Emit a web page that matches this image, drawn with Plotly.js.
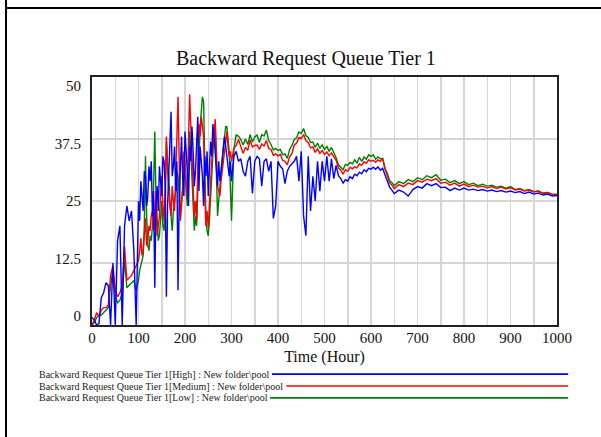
<!DOCTYPE html>
<html>
<head>
<meta charset="utf-8">
<script src="https://cdn.plot.ly/plotly-3.0.1.min.js"></script>
<style>
  html, body { margin: 0; padding: 0; background: #fff; }
  #wrap { position: relative; width: 601px; height: 437px; overflow: hidden; }
  #chart { position: absolute; left: 0; top: 0; width: 601px; height: 437px; }
  .frameV { position: absolute; left: 5px; top: 0; width: 2px; height: 437px; background: #000; z-index: 5; }
  .frameH { position: absolute; left: 5px; top: 7px; width: 596px; height: 2px; background: #000; z-index: 5; }
</style>
</head>
<body>
<div id="wrap">
  <div id="chart"></div>
  <div class="frameV"></div>
  <div class="frameH"></div>
</div>
<script>
// Time (hours)
const time = [
  0,5,10,15,20,25,30,35,40,45,50,55,60,65,70,75,80,85,90,95,100,
  102.5,105,107.5,110,112.5,115,117.5,120,122.5,125,127.5,130,132.5,135,137.5,140,142.5,145,147.5,150,
  152.5,155,157.5,160,162.5,165,167.5,170,172.5,175,177.5,180,182.5,185,187.5,190,192.5,195,197.5,200,
  202.5,205,207.5,210,212.5,215,217.5,220,222.5,225,227.5,230,232.5,235,237.5,240,242.5,245,247.5,250,
  252.5,255,257.5,260,262.5,265,267.5,270,272.5,275,277.5,280,282.5,285,287.5,290,292.5,295,297.5,300,
  305,310,315,320,325,330,335,340,345,350,355,360,365,370,375,380,385,390,395,400,
  405,410,415,420,425,430,435,440,445,450,455,460,465,470,475,480,485,490,495,500,
  505,510,515,520,525,530,535,540,545,550,555,560,565,570,575,580,585,590,595,600,
  605,610,615,620,625,630,635,640,645,650,
  660,670,680,690,700,710,720,730,740,750,760,770,780,790,800,810,820,830,840,850,
  860,870,880,890,900,910,920,930,940,950,960,970,980,990,1000
];

const high = [
  1.5,1,0,0.3,5.5,6.5,8.5,8,0,12.5,0,17,20,0,20,24,21,23,15,0,25,
  21,29,26,23,31,30,24,26,32,29,33,22,27,7.5,24,28,23,32,29,26,
  34,33,28,5.7,24,30,35,43,30,32,36,27,33,7,25,34,38,30,26,39,
  35,31,24,36,33,40,35,28,31,38,42,27,36,33,30,24,34,30,35,26,
  32,37,34,40.5,38,35,31,28,33,29,31,33,35,38,36,34,32,30,33,29,
  34,35,33,33.5,31,30,33,34,26.5,33,34,33.5,28,33,33.5,31,33,21.5,24,33,
  32,31.5,28.5,31,32,32.5,33,34,29,35,22,18,34,23,30,25,33,27,33,29,
  34,29,33.5,29.5,32.2,30.1,29.5,28.6,29.3,29,29.9,29.5,30.4,30.1,30.8,30.5,31.3,30.9,31.6,31.4,
  31.8,31.4,31.9,31.2,31.6,30.3,29.1,27.8,27.2,26.5,
  27.2,26.8,26,27.3,27.9,27.6,28.5,28.1,28.5,27.7,27.8,27.1,27.6,27.2,27.6,27.2,27.4,27.1,27.3,27,
  27.2,26.9,27.1,26.8,27,26.7,26.9,26.5,26.8,26.4,26.6,26.2,26.4,26,26.1
];

const medium = [
  0,1,2.5,1.7,3,3.5,3.5,4,10,12,7,5.7,6.5,8,15.8,9,9.5,10,11,12,13,
  15,17.5,14,15,18,21.5,16,17,20,19,22,23,19,24,27,18,20,22,26,30,
  24,21,28,38,31,27,24,22,28,25,23,30,38,46,33,21,24,28,35,33,
  29,26,37,46.5,40,33,27,22,25,21,32,40.5,38,42,40,38,27,20,23,19.5,
  24,30,33,36,40,41.5,35,28,27,26,29,31,33,36,38,39,36,34,35,33,
  35.6,36.2,37.4,35.8,34.6,35.8,35.2,37.3,35.9,36.2,36.3,35.4,36.5,36.1,37.2,35.6,35.4,34.2,34.5,34.1,
  34.4,33.2,33,32.3,33.9,34.6,36.3,36.7,37.8,37.6,38.4,37.2,36.8,35.7,35.9,34.8,35.5,34.6,35.2,34.4,
  34.9,34.1,34.7,33.9,33.2,31.7,31.2,30.4,31.3,31,31.8,31.5,31.9,31.7,32.5,32.2,32.9,32.6,33.3,33,
  33.2,32.8,33.3,33,33.6,31.5,30.2,28.7,28.2,27.5,
  28.3,27.9,28.6,28.3,29.1,28.8,29.4,29.1,29.5,28.6,28.8,28.2,28.6,28,28.4,27.9,28.2,27.8,28,27.6,
  27.9,27.5,27.8,27.4,27.7,27.2,27.4,27,27.2,26.8,27,26.5,26.7,26.3,26.3
];

const low = [
  0,0.5,1.5,2,2,2.5,3,3.5,8,11,6,4.5,5,6.5,13,7.5,8,8.5,9,7,9,
  11,12,13,14,20,34,22,16,15,18,17,20,28,39,26,22,17,18,21,25,
  20,19,24,37,33,30,25,21,19,23,25,27,31,30,26,22,25,27,30,32,
  27,24,31,39,35,30,24,19,22,20,27,35,40,43,46,45,30,21,19,18,
  21,25,30,35,39,40,31,22,25,28,31,33,36,38,40,40,38,35,28,21,
  35.4,38.3,38.1,37.4,36.3,37.5,36.4,38.4,36.9,37.9,38.3,36.8,38.4,38.1,39.3,37.2,36.4,35.3,35.6,35.2,
  35.4,34.3,34.5,33.6,35.4,36.2,37.4,37.8,38.9,38.6,39.6,38.2,37.8,36.8,36.9,35.8,36.7,35.6,36.3,35.4,
  36,35,35.8,34.8,33.7,32.3,31.8,31.3,32.4,32.2,32.8,32.5,33.3,32.7,33.8,33,33.9,33.4,34.3,34,
  34.3,33.4,33.9,33.5,33.6,31.6,30.6,29.1,28.7,28.1,
  28.9,28.5,29.3,28.9,29.7,29.3,30.1,29.7,30.3,29.2,29.4,28.7,29.1,28.5,28.9,28.3,28.6,28.1,28.4,28,
  28.2,27.8,28,27.6,27.9,27.3,27.5,27.1,27.3,26.9,27,26.6,26.7,26.3,26.3
];

const seriesNames = [
  "Backward Request Queue Tier 1[High] : New folder\\pool",
  "Backward Request Queue Tier 1[Medium] : New folder\\pool",
  "Backward Request Queue Tier 1[Low] : New folder\\pool"
];
const seriesColors = ["#0000ff", "#ff0000", "#008000"];
const xTicks = [0,100,200,300,400,500,600,700,800,900,1000];
const yTicks = [0,12.5,25,37.5,50];
const yTickText = ["0","12.5","25","37.5","50"];

const serif = "'Liberation Serif', 'Times New Roman', serif";

const traces = [
  {x: time, y: low, name: seriesNames[2], mode: "lines", line: {color: seriesColors[2], width: 1.4}},
  {x: time, y: medium, name: seriesNames[1], mode: "lines", line: {color: seriesColors[1], width: 1.4}},
  {x: time, y: high, name: seriesNames[0], mode: "lines", line: {color: seriesColors[0], width: 1.4}},
  // invisible trace to carry the tick-label axis
  {x: [time[0]], y: [yTicks[0]], yaxis: "y2", mode: "markers", marker: {opacity: 0}, hoverinfo: "skip", showlegend: false}
];

// legend rows (positions in paper units)
const legendY = [-0.198, -0.246, -0.294];
const legendLineStart = [0.387, 0.418, 0.383];
const annotations = seriesNames.map((n, i) => ({
  text: n, xref: "paper", yref: "paper", x: -0.118, y: legendY[i],
  xanchor: "left", yanchor: "middle", showarrow: false,
  font: {family: serif, size: 10, color: "#222"}
}));
const shapes = seriesNames.map((n, i) => ({
  type: "line", xref: "paper", yref: "paper",
  x0: legendLineStart[i], x1: 1.024, y0: legendY[i], y1: legendY[i],
  line: {color: seriesColors[i], width: 1.6}
}));

const layout = {
  width: 601, height: 437,
  margin: {l: 92, r: 44, t: 77, b: 112},
  paper_bgcolor: "#fff", plot_bgcolor: "#fff",
  showlegend: false,
  title: {
    text: "Backward Request Queue Tier 1",
    xref: "container", x: 0.509, xanchor: "center",
    yref: "container", y: 0.867, yanchor: "middle",
    font: {family: serif, size: 20, color: "#111"}
  },
  xaxis: {
    range: [0, 1000], tickvals: xTicks, ticktext: xTicks.map(String),
    showgrid: true, gridcolor: "#d6d6d6", gridwidth: 1.5,
    minor: {dtick: 50, showgrid: true, gridcolor: "#d6d6d6", gridwidth: 1.5},
    showline: true, mirror: true, linecolor: "#222", linewidth: 2,
    ticks: "", ticklabelstandoff: -2, zeroline: false,
    tickfont: {family: serif, size: 15, color: "#111"},
    title: {text: "Time (Hour)", font: {family: serif, size: 16, color: "#111"}, standoff: 6}
  },
  yaxis: {
    range: [0, 50], tickvals: yTicks, showticklabels: false,
    showgrid: true, gridcolor: "#d6d6d6", gridwidth: 1.5,
    showline: true, mirror: true, linecolor: "#222", linewidth: 2,
    ticks: "", zeroline: false
  },
  yaxis2: {
    overlaying: "y", side: "left", range: [-1.957, 51.957],
    tickvals: yTicks, ticktext: yTickText,
    showgrid: false, zeroline: false, showline: false, ticks: "",
    ticklabelstandoff: 10,
    tickfont: {family: serif, size: 15, color: "#111"}
  },
  annotations: annotations,
  shapes: shapes
};

Plotly.newPlot("chart", traces, layout, {displayModeBar: false, staticPlot: true});
</script>
</body>
</html>
